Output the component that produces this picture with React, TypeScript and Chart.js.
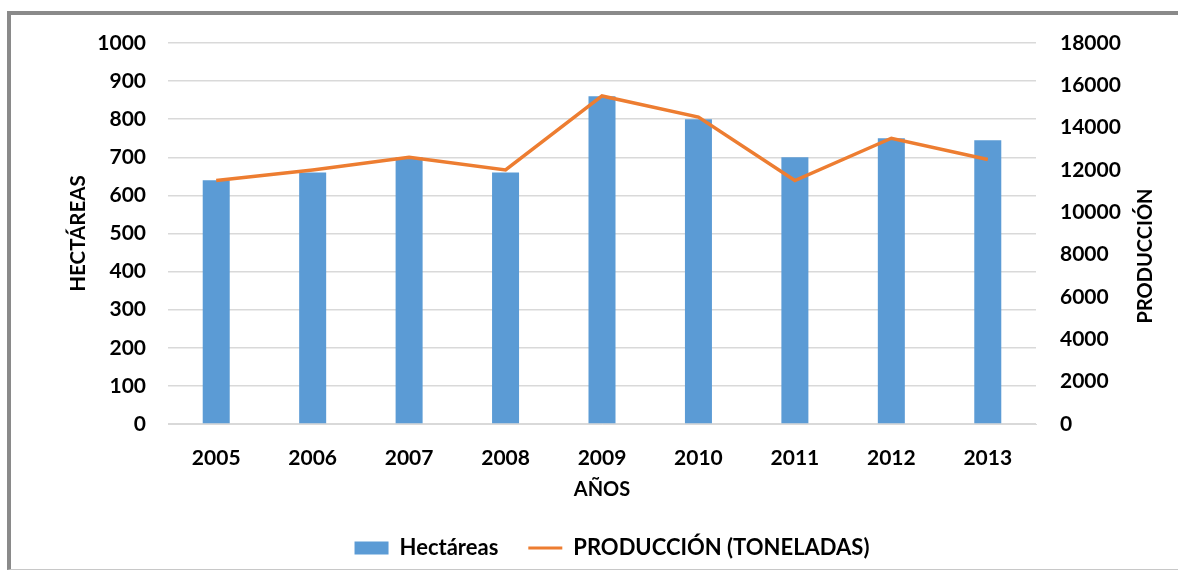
import React, { useEffect, useRef } from "react";
import { Chart, registerables } from "chart.js";

Chart.register(...registerables);

const years = ["2005", "2006", "2007", "2008", "2009", "2010", "2011", "2012", "2013"];
const hectareas = [640, 660, 700, 660, 860, 800, 700, 750, 745];
const produccion = [11500, 12000, 12600, 12000, 15500, 14500, 11500, 13500, 12500];

const leftTitle = "HECTÁREAS";
const rightTitle = "PRODUCCIÓN";
const xTitle = "AÑOS";
const barLabel = "Hectáreas";
const lineLabel = "PRODUCCIÓN (TONELADAS)";

const BLUE = "#5B9BD5";
const ORANGE = "#ED7D31";
const GRID = "#d9d9d9";
const FONT = "Lato";

const rightTitlePlugin = {
  id: "rightTitle",
  afterDraw(chart: any) {
    const ctx = chart.ctx;
    ctx.save();
    ctx.translate(1146, 256);
    ctx.rotate(-Math.PI / 2);
    ctx.fillStyle = "#000";
    ctx.font = `bold 20px ${FONT}`;
    ctx.textAlign = "center";
    ctx.textBaseline = "middle";
    ctx.fillText(rightTitle, 0, 0);
    ctx.restore();
  },
};

const plain = (v: any) => String(v);

export default function App() {
  const ref = useRef<HTMLCanvasElement>(null);
  useEffect(() => {
    if (!ref.current) return;
    const chart = new Chart(ref.current, {
      type: "bar",
      data: {
        labels: years,
        datasets: [
          {
            type: "line",
            label: lineLabel,
            data: produccion,
            yAxisID: "y1",
            borderColor: ORANGE,
            backgroundColor: ORANGE,
            borderWidth: 3.5,
            pointRadius: 0,
            tension: 0,
            order: 0,
          } as any,
          {
            type: "bar",
            label: barLabel,
            data: hectareas,
            yAxisID: "y",
            backgroundColor: BLUE,
            borderWidth: 0,
            barPercentage: 0.56,
            categoryPercentage: 0.5,
            order: 1,
          } as any,
        ],
      },
      options: {
        animation: false,
        responsive: false,
        maintainAspectRatio: false,
        layout: { padding: { top: 43, bottom: 2, left: 46, right: 0 } },
        plugins: {
          tooltip: { enabled: false },
          legend: {
            position: "bottom",
            labels: {
              usePointStyle: true,
              pointStyleWidth: 34,
              boxHeight: 13,
              padding: 30,
              color: "#000",
              font: { family: FONT, size: 22, weight: "bold" },
              generateLabels(chart: any) {
                const ds = chart.data.datasets;
                return [
                  {
                    text: ds[1].label,
                    fillStyle: BLUE,
                    strokeStyle: BLUE,
                    lineWidth: 0,
                    pointStyle: "rect",
                    datasetIndex: 1,
                    hidden: false,
                  },
                  {
                    text: ds[0].label,
                    fillStyle: ORANGE,
                    strokeStyle: ORANGE,
                    lineWidth: 3,
                    pointStyle: "line",
                    datasetIndex: 0,
                    hidden: false,
                  },
                ];
              },
            },
          },
        },
        scales: {
          x: {
            grid: { display: false, drawTicks: false },
            border: { display: true, color: GRID, width: 1 },
            ticks: {
              color: "#000",
              padding: 22,
              font: { family: FONT, size: 21, weight: "bold" },
              maxRotation: 0,
            },
            title: {
              display: true,
              text: xTitle,
              color: "#000",
              font: { family: FONT, size: 20, weight: "bold" },
              padding: { top: 0, bottom: 5 },
            },
            afterFit(scale: any) {
              scale.height = 83;
            },
          },
          y: {
            position: "left",
            min: 0,
            max: 1000,
            ticks: {
              stepSize: 100,
              color: "#000",
              padding: 22,
              callback: plain,
              font: { family: FONT, size: 21, weight: "bold" },
            },
            grid: { color: GRID, lineWidth: 1.5, drawTicks: false },
            border: { display: false },
            title: {
              display: true,
              text: leftTitle,
              color: "#000",
              font: { family: FONT, size: 20.5, weight: "bold" },
              padding: { top: 20, bottom: 0 },
            },
            afterFit(scale: any) {
              scale.width = 122;
            },
          },
          y1: {
            position: "right",
            min: 0,
            max: 18000,
            ticks: {
              stepSize: 2000,
              color: "#000",
              padding: 24,
              callback: plain,
              font: { family: FONT, size: 21, weight: "bold" },
            },
            grid: { display: false, drawTicks: false },
            border: { display: false },
            afterFit(scale: any) {
              scale.width = 142;
            },
          },
        },
      },
      plugins: [rightTitlePlugin],
    } as any);
    return () => chart.destroy();
  }, []);

  return (
    <div style={{ position: "fixed", left: 0, top: 0, width: 1178, height: 571, background: "#fff" }}>
      <canvas ref={ref} width={1178} height={571} style={{ position: "absolute", left: 0, top: 0 }} />
      <div
        style={{
          position: "absolute",
          left: 7,
          top: 11,
          width: 1171,
          height: 559,
          borderTop: "4px solid #8a8a8a",
          borderLeft: "4px solid #8a8a8a",
          borderBottom: "1px solid #c8c8c8",
          boxSizing: "border-box",
          pointerEvents: "none",
        }}
      />
    </div>
  );
}
